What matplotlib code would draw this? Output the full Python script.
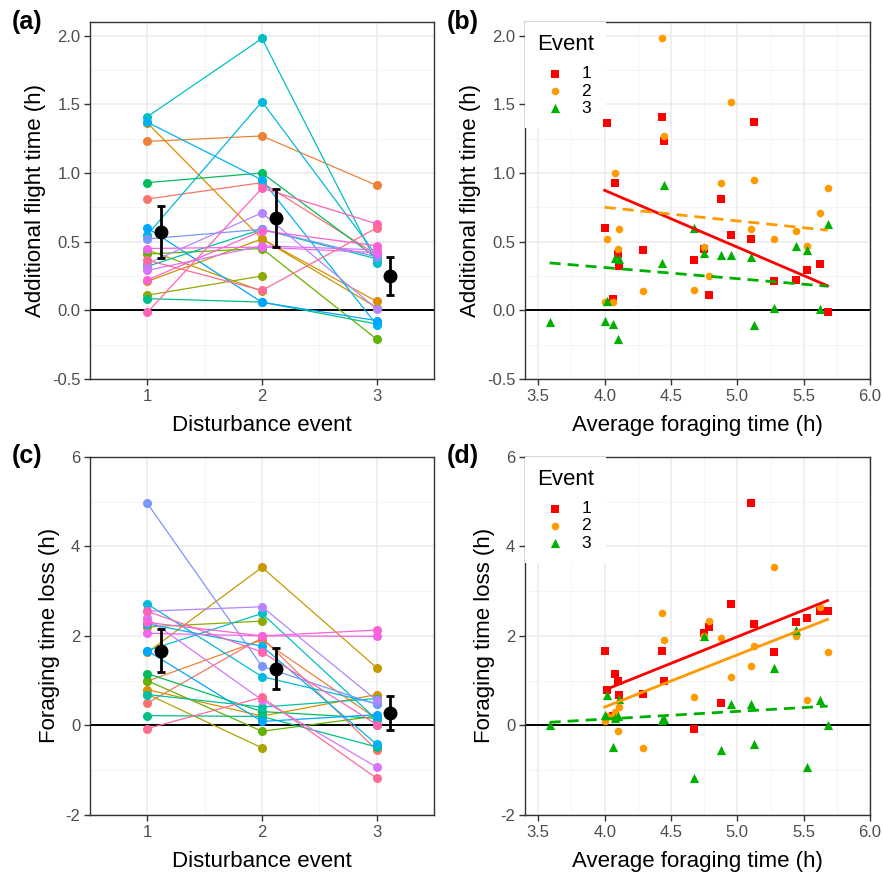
import numpy as np
import matplotlib.pyplot as plt
from matplotlib.ticker import MultipleLocator, FormatStrFormatter

plt.rcParams['font.family'] = ['Liberation Sans', 'DejaVu Sans']
plt.rcParams['axes.unicode_minus'] = False

nan = np.nan
events = [1, 2, 3]

# one entry per individual (average foraging time, then values per event)
forage = [4.88, 4.45, 4.02, 5.275, 4.29, 4.785, 4.10, 3.585, 4.075, 4.06, 4.11,
          4.43, 4.95, 5.125, 4.00, 5.10, 5.62, 5.525, 4.75, 5.445, 5.68, 4.67]
flight_e1 = [0.81, 1.23, 1.365, 0.21, 0.44, 0.11, 0.41, nan, 0.93, 0.085, 0.32,
             1.41, 0.55, 1.37, 0.60, 0.52, 0.34, 0.29, 0.45, 0.22, -0.015, 0.365]
flight_e2 = [0.93, 1.27, 0.52, 0.52, 0.14, 0.25, 0.45, nan, 1.00, 0.06, 0.59,
             1.98, 1.52, 0.95, 0.058, 0.59, 0.71, 0.47, 0.46, 0.58, 0.89, 0.145]
flight_e3 = [0.405, 0.91, 0.065, 0.02, nan, nan, -0.21, -0.085, 0.38, -0.10, 0.375,
             0.345, 0.40, -0.105, -0.075, 0.39, 0.01, 0.44, 0.42, 0.47, 0.63, 0.60]
loss_e1 = [0.50, 0.99, 0.80, 1.63, 0.70, 2.20, 1.00, nan, 1.16, 0.22, 0.69,
           1.67, 2.71, 2.27, 1.67, 4.96, 2.55, 2.39, 2.06, 2.30, 2.55, -0.07]
loss_e2 = [1.96, 1.91, 0.21, 3.53, -0.50, 2.33, -0.13, nan, 0.31, 0.20, 0.41,
           2.50, 1.09, 1.77, 0.09, 1.32, 2.65, 0.57, 2.00, 2.00, 1.64, 0.63]
loss_e3 = [-0.55, 0.15, 0.69, 1.29, nan, nan, 0.21, 0.0, 0.16, -0.48, 0.60,
           0.13, 0.49, -0.42, 0.24, 0.47, 0.56, -0.93, 1.99, 2.13, 0.02, -1.18]

# mean and 95% CI per event
flight_mean = [0.57, 0.67, 0.25]
flight_lo = [0.38, 0.46, 0.115]
flight_hi = [0.76, 0.88, 0.39]
loss_mean = [1.67, 1.27, 0.27]
loss_lo = [1.19, 0.81, -0.11]
loss_hi = [2.15, 1.73, 0.65]

# fitted model lines per event (intercept, slope)
flight_fit_int = [2.53, 1.148, 0.636]
flight_fit_slope = [-0.414, -0.0994, -0.0811]
flight_fit_ls = ['-', '--', '--']
loss_fit_int = [-3.964, -4.254, -0.546]
loss_fit_slope = [1.189, 1.166, 0.172]
loss_fit_ls = ['-', '-', '--']


def hue_pal(n, l=65, c=100):
    # ggplot default hue colours (polar Luv -> sRGB)
    h = np.deg2rad(np.linspace(15, 375, n + 1)[:-1])
    Xn, Yn, Zn = 95.047, 100.0, 108.883
    den = Xn + 15 * Yn + 3 * Zn
    un, vn = 4 * Xn / den, 9 * Yn / den
    Y = np.full(n, Yn * ((l + 16) / 116) ** 3)
    u = c * np.cos(h) / (13 * l) + un
    v = c * np.sin(h) / (13 * l) + vn
    X = Y * 9 * u / (4 * v)
    Z = Y * (12 - 3 * u - 20 * v) / (4 * v)
    M = np.array([[3.2406, -1.5372, -0.4986],
                  [-0.9689, 1.8758, 0.0415],
                  [0.0557, -0.2040, 1.0570]])
    rgb = M @ np.vstack([X, Y, Z]) / 100
    rgb = np.where(rgb <= 0.0031308, 12.92 * rgb, 1.055 * np.abs(rgb) ** (1 / 2.4) - 0.055)
    return np.clip(rgb.T, 0, 1)


cols = hue_pal(len(forage))
ev_style = [('s', '#FF0000', 36), ('o', '#FF9A00', 30), ('^', '#00B000', 44)]


def style_ax(ax):
    ax.set_facecolor('white')
    ax.grid(True, which='major', color='#EBEBEB', lw=1.1)
    ax.grid(True, which='minor', color='#F2F2F2', lw=0.6)
    ax.set_axisbelow(True)
    for s in ax.spines.values():
        s.set_color('#333333')
        s.set_linewidth(1.0)
    ax.tick_params(which='major', length=4, width=1, color='#333333',
                   labelsize=12, labelcolor='#4D4D4D', pad=3)
    ax.tick_params(which='minor', length=0)
    ax.axhline(0, color='black', lw=1.4, zorder=1.5)


def individual_panel(ax, e1, e2, e3, mean, lo, hi):
    style_ax(ax)
    for i in range(len(e1)):
        ax.plot(events, [e1[i], e2[i], e3[i]], color=cols[i], lw=0.9,
                marker='o', ms=5.5, zorder=2)
    xm = np.array(events) + 0.12
    mean = np.array(mean)
    ax.errorbar(xm, mean, yerr=[mean - np.array(lo), np.array(hi) - mean],
                fmt='o', color='black', ms=9, elinewidth=2, capsize=3,
                capthick=2, zorder=5)
    ax.set_xlim(0.5, 3.5)
    ax.set_xticks(events)
    ax.xaxis.set_minor_locator(MultipleLocator(0.5))
    ax.set_xlabel('Disturbance event', fontsize=16, labelpad=8)


def scatter_panel(ax, vals, fit_int, fit_slope, fit_ls):
    style_ax(ax)
    fx = np.array(forage)
    for k, v in enumerate(vals):
        v = np.array(v)
        m, c, s = ev_style[k]
        ax.scatter(fx, v, marker=m, color=c, s=s, lw=0, zorder=3, label=str(k + 1))
        ok = ~np.isnan(v)
        xs = np.array([fx[ok].min(), fx[ok].max()])
        ln, = ax.plot(xs, fit_int[k] + fit_slope[k] * xs, color=c, lw=2, zorder=4)
        if fit_ls[k] == '--':
            ln.set_dashes((4, 2.5))
    ax.set_xlim(3.4, 6.0)
    ax.xaxis.set_major_locator(MultipleLocator(0.5))
    ax.xaxis.set_minor_locator(MultipleLocator(0.25))
    ax.xaxis.set_major_formatter(FormatStrFormatter('%.1f'))
    ax.set_xlabel('Average foraging time (h)', fontsize=16, labelpad=8)
    leg = ax.legend(title='Event', loc='upper left', fontsize=12.5, title_fontsize=16,
                    frameon=True, framealpha=1, edgecolor='none', fancybox=False,
                    borderaxespad=0, borderpad=0.7, handletextpad=0.45,
                    labelspacing=0.12, handlelength=2.1)
    leg._legend_box.align = 'left'
    leg._legend_box.sep = 8
    leg.set_zorder(2.5)


fig = plt.figure(figsize=(8.83, 8.76), dpi=100)
axa = fig.add_axes([0.1019, 0.5674, 0.3896, 0.4075])
axb = fig.add_axes([0.5946, 0.5674, 0.3907, 0.4075])
axc = fig.add_axes([0.1019, 0.0696, 0.3896, 0.409])
axd = fig.add_axes([0.5946, 0.0696, 0.3907, 0.409])

individual_panel(axa, flight_e1, flight_e2, flight_e3, flight_mean, flight_lo, flight_hi)
individual_panel(axc, loss_e1, loss_e2, loss_e3, loss_mean, loss_lo, loss_hi)
scatter_panel(axb, [flight_e1, flight_e2, flight_e3], flight_fit_int, flight_fit_slope, flight_fit_ls)
scatter_panel(axd, [loss_e1, loss_e2, loss_e3], loss_fit_int, loss_fit_slope, loss_fit_ls)

for ax in (axa, axb):
    ax.set_ylim(-0.5, 2.1)
    ax.yaxis.set_major_locator(MultipleLocator(0.5))
    ax.yaxis.set_minor_locator(MultipleLocator(0.25))
    ax.yaxis.set_major_formatter(FormatStrFormatter('%.1f'))
    ax.set_ylabel('Additional flight time (h)', fontsize=16, labelpad=4)
for ax in (axc, axd):
    ax.set_ylim(-2, 6)
    ax.yaxis.set_major_locator(MultipleLocator(2))
    ax.yaxis.set_minor_locator(MultipleLocator(1))
    ax.set_ylabel('Foraging time loss (h)', fontsize=16, labelpad=4)

for lab, x, y in [('(a)', 12, 10), ('(b)', 447, 10), ('(c)', 12, 444), ('(d)', 447, 444)]:
    fig.text(x / 883, 1 - y / 876, lab, fontsize=18, fontweight='bold', va='top', ha='left')

fig.savefig('out.png', dpi=100, facecolor='white')
